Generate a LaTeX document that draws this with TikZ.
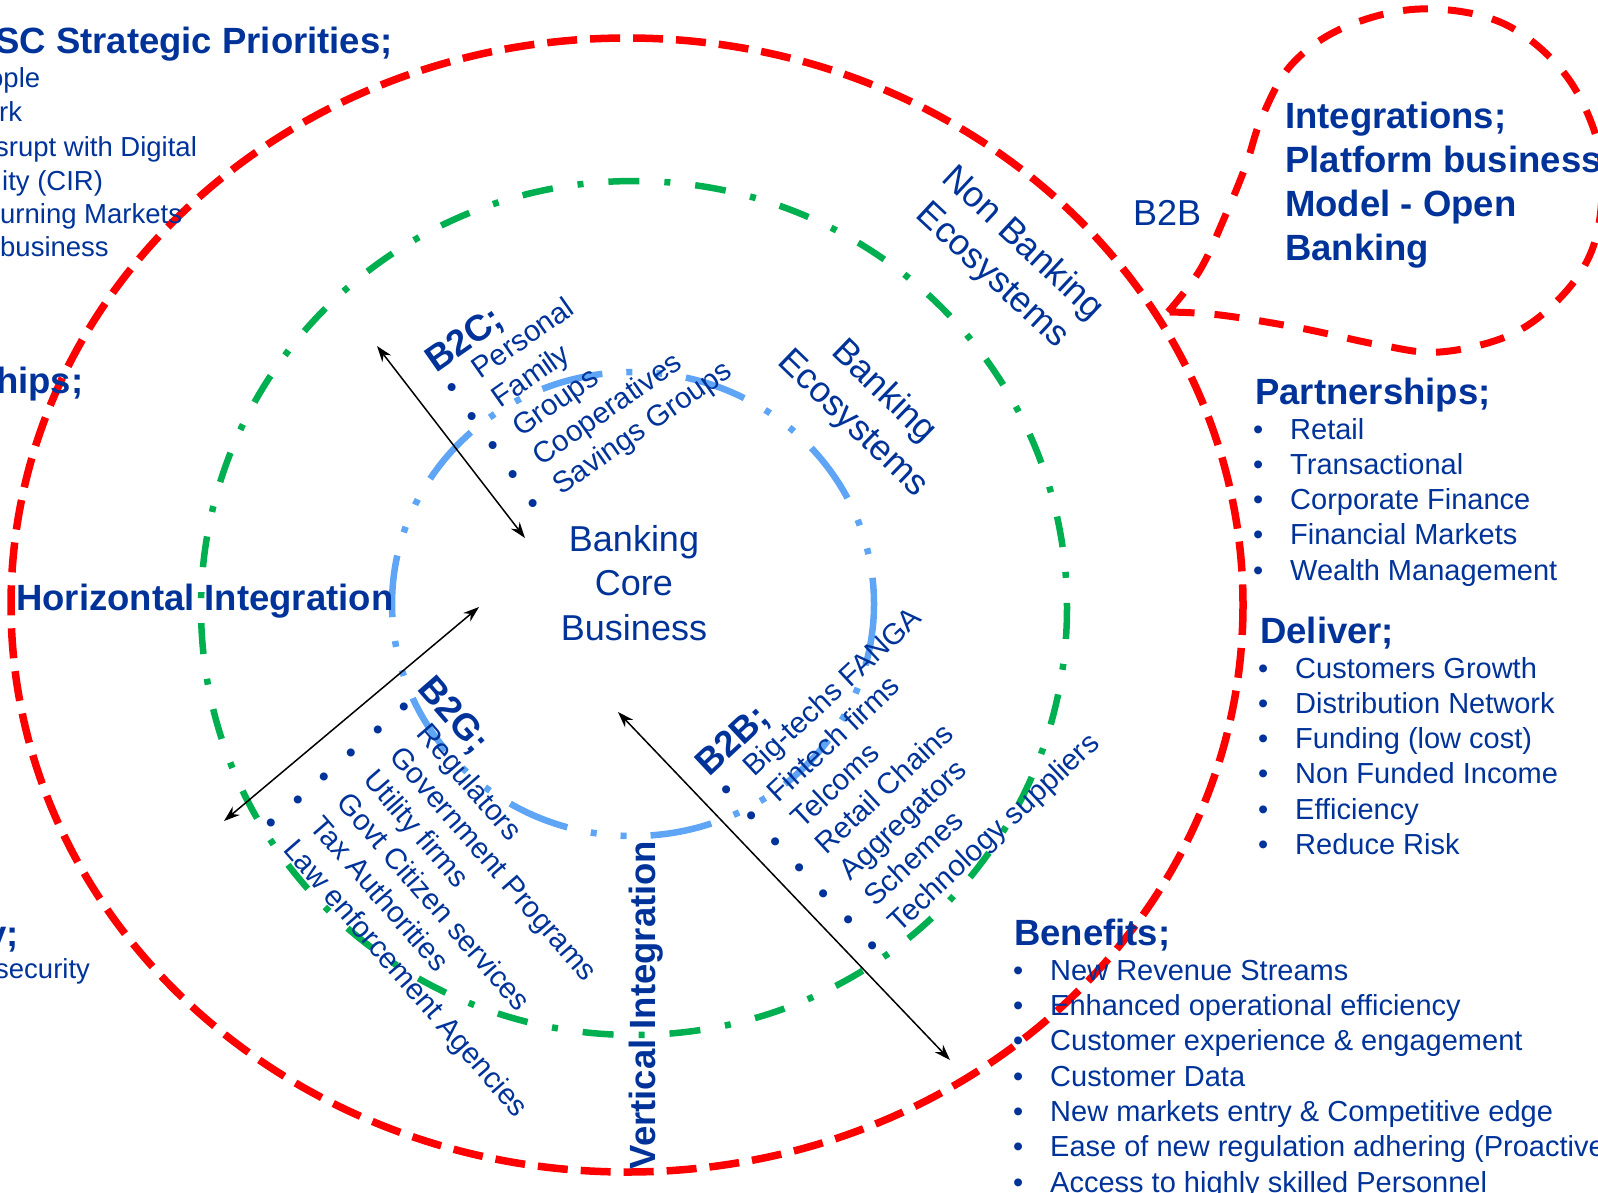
\documentclass[tikz,border=0pt]{standalone}
\usepackage{fontspec}
\setmainfont{Liberation Sans}
\usepackage{tikz}
\usetikzlibrary{arrows.meta}
\definecolor{navy}{RGB}{0,51,153}
\definecolor{ringred}{RGB}{255,0,0}
\definecolor{ringgreen}{RGB}{0,176,80}
\definecolor{ringblue}{RGB}{95,165,245}
\newcommand{\blt}[1]{\makebox[37pt][l]{•}#1}
\newcommand{\sblt}[1]{\makebox[33pt][l]{•}#1}
\tikzset{head/.style={navy,inner sep=0pt,font=\fontsize{36.5}{44}\selectfont\bfseries},
  big/.style={navy,inner sep=0pt,font=\fontsize{36}{44.5}\selectfont,align=center},
  txt/.style={navy,inner sep=0pt,font=\fontsize{29}{35}\selectfont},
  sml/.style={navy,inner sep=0pt,font=\fontsize{29.5}{35}\selectfont},
  cut/.style={navy,inner sep=0pt,font=\fontsize{27.5}{34}\selectfont},
  link/.style={<->,line width=1.5pt,black}}

\begin{document}
\begin{tikzpicture}[x=1pt,y=-1pt,>={Stealth[length=16pt,width=11pt]},line join=round]
\useasboundingbox (0,0) rectangle (1598,1192);
% --- rings: outer (non banking), middle (ecosystems), inner (core)
\draw[ringred,line width=7.5pt,dash pattern=on 30pt off 13pt] (627,605) ellipse [x radius=616,y radius=567];
\draw[ringgreen,line width=6.5pt,dash pattern=on 31pt off 25pt on 6pt off 25pt] (634,608) ellipse [x radius=433,y radius=427];
\draw[ringblue,line width=6.5pt,dash pattern=on 62pt off 24pt on 6pt off 24pt on 6pt off 24pt] (633,604) ellipse [x radius=241,y radius=232];
% --- callout bubble, tail on the outer ring
\draw[ringred,line width=7pt,dash pattern=on 25pt off 20pt] plot[smooth,tension=0.6] coordinates {(1168,312) (1200,270) (1226,214) (1246,165) (1262,117) (1292,64) (1345,27) (1420,9) (1500,22) (1560,68) (1594,130) (1602,190) (1592,250) (1560,298) (1510,335) (1440,352) (1380,345) (1300,328) (1220,315) (1168,312)};
\node[head,align=left,anchor=west] (integ) at (1285,185) {Integrations;\\Platform business\\Model - Open\\Banking};
\node[big,anchor=base west] (btob) at (1133,225) {B2B};

% --- core and ring labels
\node[big] (core) at (634,583) {Banking\\Core\\Business};
\node[big,rotate=-43] (nbeco) at (1007,260) {Non Banking\\Ecosystems};
\node[big,rotate=-44] (beco) at (868,408) {Banking\\Ecosystems};
\node[head,anchor=base west] (hint) at (16,610) {Horizontal Integration};
\node[head,rotate=90,anchor=base] (vint) at (655,1005) {Vertical Integration};

% --- segment lists, turned along the rings
\begin{scope}[shift={(452,388)},rotate=35,transform shape]
\node[head,anchor=base west] (btoc) at (-5,-21) {B2C;};
\foreach \t [count=\i from 0] in {Personal,Family,Groups,Cooperatives,Savings Groups}
  \node[sml,anchor=base west] (btoc\i) at (-5,9.5+35.4*\i) {\sblt{\t}};
\end{scope}
\begin{scope}[shift={(404,707)},rotate=-49,transform shape]
\node[head,anchor=base west] (btog) at (-5,-21) {B2G;};
\foreach \t [count=\i from 0] in {Regulators,Government Programs,Utility firms,Govt Citizen services,Tax Authorities,Law enforcement Agencies}
  \node[sml,anchor=base west] (btog\i) at (-5,9.5+35.3*\i) {\sblt{\t}};
\end{scope}
\begin{scope}[shift={(727,790)},rotate=43,transform shape]
\node[head,anchor=base west] (btobl) at (-5,-21) {B2B;};
\foreach \t [count=\i from 0] in {Big-techs FANGA,Fintech firms,Telcoms,Retail Chains,Aggregators,Schemes,Technology suppliers}
  \node[sml,anchor=base west] (btobl\i) at (-5,9.5+35.5*\i) {\sblt{\t}};
\end{scope}

% --- integration arrows
\coordinate (bcOut) at (377,346); \coordinate (bcIn) at (525,538);
\coordinate (bgIn) at (479,607); \coordinate (bgOut) at (224,821);
\coordinate (bbIn) at (618,712); \coordinate (bbOut) at (950,1060);
\draw[link] (bcOut) -- (bcIn);
\draw[link] (bgIn) -- (bgOut);
\draw[link] (bbIn) -- (bbOut);

% --- right hand lists
\node[head,anchor=base west] (partn) at (1255,404) {Partnerships;};
\foreach \t [count=\i] in {Retail,Transactional,Corporate Finance,Financial Markets,Wealth Management}
  \node[txt,anchor=base west] (partn\i) at (1253,404+35.2*\i) {\blt{\t}};
\node[head,anchor=base west] (deliv) at (1260,643) {Deliver;};
\foreach \t [count=\i] in {Customers Growth,Distribution Network,Funding (low cost),Non Funded Income,Efficiency,Reduce Risk}
  \node[txt,anchor=base west] (deliv\i) at (1258,643+35.2*\i) {\blt{\t}};
\node[head,anchor=base west] (benef) at (1014,945) {Benefits;};
\foreach \t [count=\i] in {New Revenue Streams,Enhanced operational efficiency,Customer experience \& engagement,Customer Data,New markets entry \& Competitive edge,Ease of new regulation adhering (Proactive),Access to highly skilled Personnel}
  \node[txt,anchor=base west] (benef\i) at (1013,945+35.3*\i) {\blt{\t}};

% --- left hand lists, running off the page edge
\node[head,anchor=base west] (prio) at (-5,53) {SC Strategic Priorities;};
\node[cut,anchor=base west] (prio1) at (-12,87) {ople};
\node[cut,anchor=base west] (prio2) at (-1,121.5) {rk};
\node[cut,anchor=base west] (prio3) at (-5,156) {srupt with Digital};
\node[cut,anchor=base west] (prio4) at (2,190) {ity (CIR)};
\node[cut,anchor=base west] (prio5) at (0,223) {urning Markets};
\node[cut,anchor=base west] (prio6) at (0,256) {business};
\node[head,anchor=base west] (lpart) at (-4,393) {hips;};
\node[head,anchor=base west] (lsec) at (-14,946) {y;};
\node[cut,anchor=base west] (lsec1) at (-5,978) {security};
\end{tikzpicture}
\end{document}
